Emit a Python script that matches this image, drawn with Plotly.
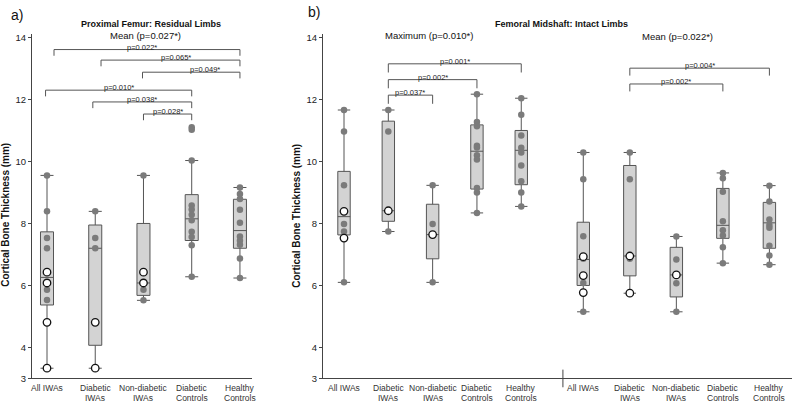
import plotly.graph_objects as go

# ---------------- data ----------------
categories = ["All IWAs", "Diabetic IWAs", "Non-diabetic IWAs", "Diabetic Controls", "Healthy Controls"]
label_line1 = ["All IWAs", "Diabetic", "Non-diabetic", "Diabetic", "Healthy"]
label_line2 = ["", "IWAs", "IWAs", "Controls", "Controls"]

# Proximal femur, residual limbs (mean)
prox_q1 = [5.37, 4.07, 5.68, 7.45, 7.20]
prox_med = [6.26, 7.20, 6.08, 8.15, 7.77]
prox_q3 = [7.73, 7.95, 8.00, 8.93, 8.78]
prox_lo = [3.33, 3.33, 5.52, 6.28, 6.24]
prox_hi = [9.55, 8.39, 9.55, 10.03, 9.16]
prox_gray = [
    [9.55, 8.39, 7.53, 7.20, 5.86, 5.53],
    [8.39, 7.53, 7.20],
    [9.55, 5.86, 5.52],
    [11.10, 11.02, 10.03, 8.58, 8.45, 8.28, 8.10, 7.73, 7.56, 7.30, 6.28],
    [9.16, 8.95, 8.79, 8.44, 8.02, 7.58, 7.44, 7.31, 6.87, 6.24],
]
prox_white = [[6.43, 6.08, 4.81, 3.33], [4.81, 3.33], [6.43, 6.08], [], []]

# Femoral midshaft, intact limbs - maximum
max_q1 = [7.63, 8.07, 6.86, 9.11, 9.25]
max_med = [8.22, 8.41, 7.64, 10.33, 10.36]
max_q3 = [9.68, 11.30, 8.62, 11.18, 11.00]
max_lo = [6.10, 7.74, 6.10, 8.34, 8.55]
max_hi = [11.66, 11.66, 9.23, 12.17, 12.04]
max_gray = [
    [11.66, 10.97, 9.23, 7.98, 7.74, 6.10],
    [11.66, 10.97, 7.74],
    [9.23, 7.98, 6.10],
    [12.17, 11.27, 11.14, 10.51, 10.45, 10.20, 10.06, 9.14, 9.00, 8.34],
    [12.04, 11.51, 10.84, 10.44, 10.29, 9.87, 9.36, 9.00, 8.55],
]
max_white = [[8.39, 7.53], [8.41], [7.64], [], []]

# Femoral midshaft, intact limbs - mean
mean_q1 = [6.00, 6.31, 5.63, 7.52, 7.20]
mean_med = [6.84, 6.95, 6.34, 7.94, 8.02]
mean_q3 = [8.04, 9.87, 7.23, 9.13, 8.68]
mean_lo = [5.15, 5.75, 5.15, 6.72, 6.67]
mean_hi = [10.29, 10.29, 7.58, 9.63, 9.22]
mean_gray = [
    [10.29, 9.43, 7.59, 6.86, 6.08, 5.15],
    [10.29, 9.43, 6.86],
    [7.58, 6.84, 6.07, 5.15],
    [9.63, 9.46, 9.02, 8.07, 7.78, 7.61, 7.23, 6.72],
    [9.22, 8.71, 8.13, 7.95, 7.86, 7.28, 6.97, 6.67],
]
mean_white = [[6.93, 6.32, 5.77], [6.95, 5.75], [6.34], [], []]

# significance brackets: (from index, to index, label)
prox_pairs = [(0, 4, "p=0.022*"), (1, 4, "p=0.065*"), (2, 4, "p=0.049*"),
              (0, 3, "p=0.010*"), (1, 3, "p=0.038*"), (2, 3, "p=0.028*")]
max_pairs = [(1, 4, "p=0.001*"), (1, 3, "p=0.002*"), (1, 2, "p=0.037*")]
mean_pairs = [(1, 4, "p=0.004*"), (1, 3, "p=0.002*")]

y_ticks = [3, 4, 6, 8, 10, 12, 14]

# ---------------- layout constants ----------------
pos_left = [1, 2, 3, 4, 5]
pos_max = [1, 2, 3, 4, 5]
pos_mean = [6.4, 7.45, 8.5, 9.55, 10.6]

prox_br_y = [13.61, 13.27, 12.88, 12.30, 11.92, 11.53]
prox_br_dx0 = [0.145, 0.12, -0.02, -0.03, -0.05, 0.0]
prox_lab_dx = [-0.1, 0.12, 0.28, 0.0, 0.0, 0.0]
max_br_y = [13.15, 12.64, 12.14]
mean_br_y = [13.01, 12.50]

GRAY = "#7b7b7b"
BOXFILL = "#d3d3d3"
BOXLINE = "#555555"
FONT = "Liberation Sans, Arial, sans-serif"

fig = go.Figure()


def add_group(pos, q1, med, q3, lo, hi, gray, white, xa, ya, width):
    fig.add_trace(go.Box(
        x=pos, q1=q1, median=med, q3=q3, lowerfence=lo, upperfence=hi,
        fillcolor=BOXFILL, line=dict(color=BOXLINE, width=1),
        width=width, whiskerwidth=1, boxpoints=False,
        xaxis=xa, yaxis=ya, showlegend=False, hoverinfo="skip"))
    gx, gy, wx, wy = [], [], [], []
    for p, g, w in zip(pos, gray, white):
        gx += [p] * len(g)
        gy += g
        wx += [p] * len(w)
        wy += w
    fig.add_trace(go.Scatter(
        x=gx, y=gy, mode="markers", xaxis=xa, yaxis=ya, showlegend=False,
        marker=dict(color=GRAY, size=6.5, line=dict(width=0)), cliponaxis=False))
    fig.add_trace(go.Scatter(
        x=wx, y=wy, mode="markers", xaxis=xa, yaxis=ya, showlegend=False,
        marker=dict(color="white", size=7.5, line=dict(color="#111111", width=1.3)),
        cliponaxis=False))


add_group(pos_left, prox_q1, prox_med, prox_q3, prox_lo, prox_hi, prox_gray, prox_white, "x", "y", 0.27)
add_group(pos_max, max_q1, max_med, max_q3, max_lo, max_hi, max_gray, max_white, "x2", "y2", 0.28)
add_group(pos_mean, mean_q1, mean_med, mean_q3, mean_lo, mean_hi, mean_gray, mean_white, "x2", "y2", 0.28)

shapes = []
annotations = []


def add_brackets(pairs, pos, ys, xr, yr, leg, dx0=None, labdx=None):
    for k, ((a, b, lab), y) in enumerate(zip(pairs, ys)):
        x0 = pos[a] + (dx0[k] if dx0 else 0)
        x1 = pos[b]
        path = f"M {x0},{y - leg} L {x0},{y} L {x1},{y} L {x1},{y - leg}"
        shapes.append(dict(type="path", path=path, xref=xr, yref=yr,
                           line=dict(color="#555555", width=1)))
        xc = (x0 + x1) / 2 + (labdx[k] if labdx else 0)
        annotations.append(dict(x=xc, y=y, xref=xr, yref=yr, text=lab, showarrow=False,
                                yanchor="bottom", yshift=-4,
                                font=dict(size=7.5, color="#222222", family=FONT)))


add_brackets(prox_pairs, pos_left, prox_br_y, "x", "y", 0.2, prox_br_dx0, prox_lab_dx)
add_brackets(max_pairs, pos_max, max_br_y, "x2", "y2", 0.28)
add_brackets(mean_pairs, pos_mean, mean_br_y, "x2", "y2", 0.24)

# group separator tick on the right panel x axis
shapes.append(dict(type="line", xref="x2", yref="paper", x0=5.94, x1=5.94,
                   y0=(406 - 392) / 406, y1=(406 - 374) / 406,
                   line=dict(color="#444444", width=1)))

# category labels under the x axes, one text per line so both lines fit
for xr, pos in (("x", pos_left), ("x2", pos_max), ("x2", pos_mean)):
    for p, t1, t2 in zip(pos, label_line1, label_line2):
        for t, ypx in ((t1, 393), (t2, 403)):
            if not t:
                continue
            annotations.append(dict(x=p, y=1 - ypx / 406, xref=xr, yref="paper", text=t,
                                    showarrow=False, xanchor="center", yanchor="middle",
                                    borderpad=0,
                                    font=dict(size=8.5, color="#333333", family=FONT)))


def paper_text(xpx, ypx, text, size, bold=False, angle=0):
    annotations.append(dict(
        x=xpx / 792, y=1 - ypx / 406, xref="paper", yref="paper",
        text=f"<b>{text}</b>" if bold else text, showarrow=False, textangle=angle,
        xanchor="center", yanchor="middle",
        font=dict(size=size, color="#111111", family=FONT)))


paper_text(17, 12, "a)", 14)
paper_text(314, 9, "b)", 14)
paper_text(151, 21, "Proximal Femur: Residual Limbs", 9, bold=True)
paper_text(145, 33, "Mean (p=0.027*)", 9.5)
paper_text(561, 21, "Femoral Midshaft: Intact Limbs", 9, bold=True)
paper_text(429, 33, "Maximum (p=0.010*)", 9.5)
paper_text(677, 34, "Mean (p=0.022*)", 9.5)
paper_text(6, 216, "Cortical Bone Thickness (mm)", 10, bold=True, angle=-90)
paper_text(297, 217, "Cortical Bone Thickness (mm)", 10, bold=True, angle=-90)

ydom = [1 - 383 / 406, 1 - 32 / 406]
yax = dict(range=[3, 14.1], domain=ydom, tickvals=y_ticks, ticktext=[str(t) for t in y_ticks],
           showline=True, linecolor="#444444", linewidth=1, ticks="outside", ticklen=3,
           tickcolor="#444444", showgrid=False, zeroline=False,
           tickfont=dict(size=9.5, color="#222222", family=FONT))
xax_common = dict(showline=True, linecolor="#444444", linewidth=1, ticks="", showgrid=False,
                  zeroline=False, showticklabels=False)

fig.update_layout(
    width=792, height=406, margin=dict(l=0, r=0, t=0, b=0),
    paper_bgcolor="white", plot_bgcolor="white", showlegend=False,
    font=dict(family=FONT),
    xaxis=dict(domain=[32 / 792, 252 / 792], range=[0.689, 5.25], anchor="y",
               tickvals=pos_left, **xax_common),
    yaxis=dict(anchor="x", **yax),
    xaxis2=dict(domain=[323 / 792, 1.0], range=[0.526, 11.11], anchor="y2",
                tickvals=pos_max + pos_mean, **xax_common),
    yaxis2=dict(anchor="x2", **yax),
    shapes=shapes, annotations=annotations,
)

fig.write_html(
    "out.html",
    config={"displayModeBar": False},
    post_script="document.body.style.margin='0px';document.body.style.overflow='hidden';",
)
